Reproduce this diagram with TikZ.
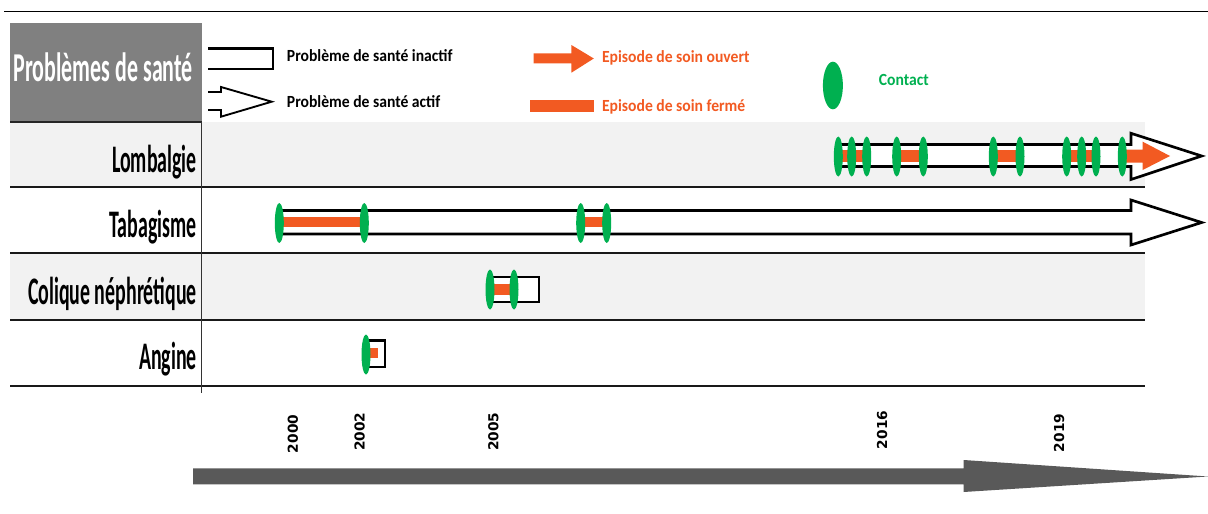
\documentclass[tikz,border=0pt]{standalone}
\usepackage{fontspec}
\setmainfont{Carlito}
\newfontfamily\condfont[FakeStretch=0.51]{Carlito}
\newfontfamily\hdrfont[FakeStretch=0.535]{Carlito}
\newfontfamily\legfont[FakeStretch=0.92]{Carlito}
\newfontfamily\yearfont{DejaVu Sans}
\usetikzlibrary{shapes.geometric}
\definecolor{hdrgray}{HTML}{808080}
\definecolor{rowgray}{HTML}{F2F2F2}
\definecolor{epor}{HTML}{F25A22}
\definecolor{congreen}{HTML}{00B050}
\definecolor{axisgray}{HTML}{595959}
\tikzset{
  rowbg/.style={fill=rowgray, draw=none},
  rowline/.style={draw=black!90, line width=1.8pt},
  probshape/.style={draw=black, fill=white, line width=2pt, line join=miter},
  legshape/.style={draw=black, line width=1.4pt, line join=miter},
  episode/.style={fill=epor, draw=none},
  contact/.style={ellipse, fill=congreen, draw=none, inner sep=0pt, minimum width=6.75pt, minimum height=30pt},
  rowlabel/.style={anchor=base east, inner sep=0pt, font=\condfont\bfseries\fontsize{29.25}{30}\selectfont},
  legtext/.style={anchor=base west, inner sep=0pt, font=\legfont\bfseries\fontsize{12.75}{14}\selectfont},
  yeartext/.style={rotate=90, inner sep=0pt, font=\yearfont\bfseries\fontsize{10.3}{12}\selectfont}
}
\begin{document}
\begin{tikzpicture}[x=0.75pt,y=-0.75pt]
\useasboundingbox (0,0) rectangle (1208,514);
% top rule
\draw[line width=1.1pt] (4,11.7) -- (1208,11.7);
% header
\fill[hdrgray] (10,23.3) rectangle (201.5,122);
\node[anchor=base, inner sep=0pt, text=white, font=\hdrfont\bfseries\fontsize{30.75}{32}\selectfont] (hdr) at (103.3,81.7) {Problèmes de santé};
% row backgrounds
\fill[rowbg] (10,122) rectangle (1145,187);
\fill[rowbg] (10,253) rectangle (1145,320);
% row lines
\draw[line width=1.1pt, black!85] (10,122) -- (201.5,122);
\draw[rowline] (10,187) -- (1145,187);
\draw[rowline] (10,253) -- (1145,253);
\draw[rowline] (10,320) -- (1145,320);
\draw[rowline] (10,386) -- (1145,386);
\draw[line width=0.8pt, black!80] (201.5,122) -- (201.5,393);
% row labels
\node[rowlabel] (lomb) at (197,172) {Lombalgie};
\node[rowlabel] (taba) at (197,237.5) {Tabagisme};
\node[rowlabel] (coli) at (197,304) {Colique néphrétique};
\node[rowlabel] (angi) at (197,369.5) {Angine};

% legend
\draw[legshape, line width=1.6pt] (208,48.5) -- (272.7,48.5) -- (272.7,69) -- (208,69);
\node[legtext] (linact) at (286.7,61.5) {Problème de santé inactif};
\draw[legshape] (208,92) -- (221,92) -- (221,87) -- (271.7,101.7) -- (221,116.7) -- (221,110) -- (208,110);
\node[legtext] (lact) at (286.7,107) {Problème de santé actif};
\fill[episode] (533.5,53.3) -- (571.4,53.3) -- (571.4,45) -- (593.8,58.5) -- (571.4,72.7) -- (571.4,63.3) -- (533.5,63.3) -- cycle;
\node[legtext, text=epor] (lopen) at (601.8,62) {Episode de soin ouvert};
\fill[episode] (530,100) rectangle (593.8,112);
\node[legtext, text=epor] (lclosed) at (601.8,111) {Episode de soin fermé};
\node[ellipse, fill=congreen, inner sep=0pt, minimum width=15pt, minimum height=35.7pt] (lcont) at (832.9,85.5) {};
\node[legtext, text=congreen] (lcontt) at (878.6,85.5) {Contact};

% Lombalgie: active problem
\draw[probshape] (840,144.5) -- (1131,144.5) -- (1131,133.3) -- (1201.7,156) -- (1131,179.5) -- (1131,166.5) -- (840,166.5) -- cycle;
\fill[episode] (838,150) rectangle (866.7,162);
\fill[episode] (896.7,150) rectangle (923.3,162);
\fill[episode] (993.3,150) rectangle (1020,162);
\fill[episode] (1066.7,150) rectangle (1096,162);
\fill[episode] (1122,149.5) -- (1142.7,149.5) -- (1142.7,141.7) -- (1170,156) -- (1142.7,170) -- (1142.7,162.5) -- (1122,162.5) -- cycle;
\foreach \n/\xx in {1/838.3,2/851.7,3/866.7,4/896.7,5/923.3,6/993.3,7/1020,8/1066.7,9/1081.7,10/1096,11/1122.3}
  \node[contact] (lc\n) at (\xx,156.5) {};

% Tabagisme: active problem
\draw[probshape] (280,210.5) -- (1131,210.5) -- (1131,200) -- (1201.7,222.5) -- (1131,245) -- (1131,234) -- (280,234) -- cycle;
\fill[episode] (279.3,217.3) rectangle (364.3,227.3);
\fill[episode] (580.7,217.3) rectangle (606.7,227.3);
\foreach \n/\xx in {1/279.3,2/364.3,3/580.7,4/606.7}
  \node[contact] (tc\n) at (\xx,223) {};

% Colique nephretique: inactive problem
\draw[probshape] (490,277) rectangle (539,302);
\fill[episode] (490,284) rectangle (514,295);
\node[contact] (cc1) at (490,289.5) {};
\node[contact] (cc2) at (514,289.5) {};

% Angine: inactive problem
\draw[probshape] (366.7,340.5) rectangle (385,367);
\fill[episode] (366,348.3) rectangle (378,358.3);
\node[contact] (ac1) at (366,354.5) {};

% years
\node[yeartext] (y2000) at (292.8,434) {2000};
\node[yeartext] (y2002) at (359.7,431.7) {2002};
\node[yeartext] (y2005) at (493.3,431.7) {2005};
\node[yeartext] (y2016) at (882,430) {2016};
\node[yeartext] (y2019) at (1059,433) {2019};

% time axis
\fill[axisgray] (193,468.3) -- (963.6,468.3) -- (963.6,460) -- (1208,476.5) -- (963.6,492) -- (963.6,484.3) -- (193,484.3) -- cycle;
\end{tikzpicture}
\end{document}
